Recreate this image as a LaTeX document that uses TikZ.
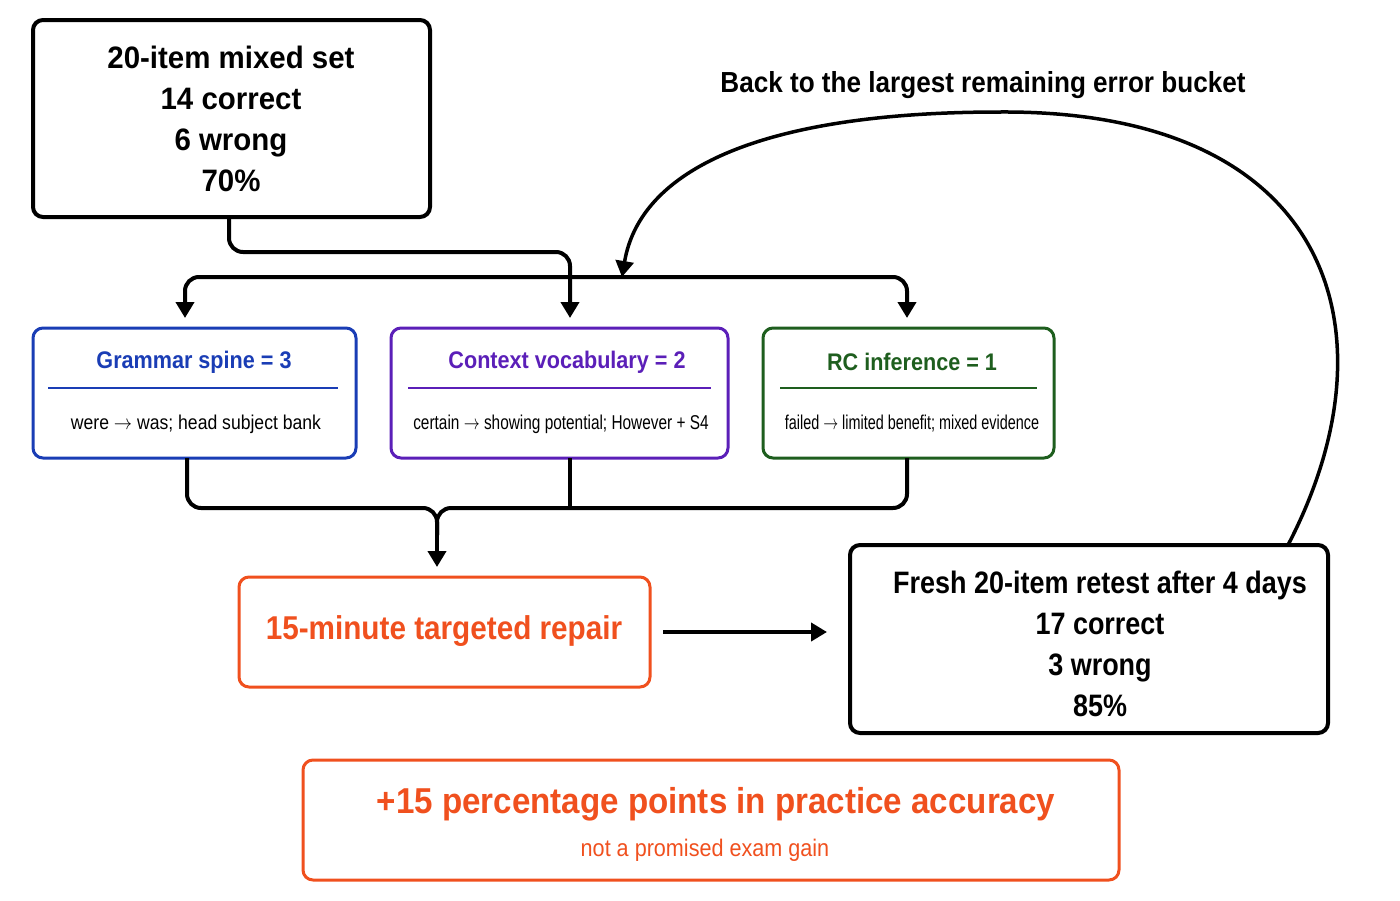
\documentclass[tikz,border=0pt]{standalone}
\usepackage{fontspec}
\setmainfont{Liberation Sans}
\usetikzlibrary{arrows.meta}
\definecolor{gblue}{HTML}{1A3DB5}
\definecolor{gpurp}{HTML}{5B1FB8}
\definecolor{ggreen}{HTML}{1E5E1E}
\definecolor{gorange}{HTML}{F0501E}
\begin{document}
\begin{tikzpicture}[x=1pt,y=-1pt,
 box/.style={draw,line width=4pt,rounded corners=10pt,inner sep=0pt},
 cbox/.style={draw,line width=3pt,rounded corners=10pt,inner sep=0pt},
 conn/.style={line width=4pt,rounded corners=14pt},
 arr/.style={conn,-{Triangle[length=16pt,width=18pt]}},
 big/.style={font=\fontsize{31}{41}\selectfont\bfseries,align=center},
 ttl/.style={font=\fontsize{24}{28}\selectfont\bfseries},
 sub/.style={font=\fontsize{20}{24}\selectfont}]
\useasboundingbox (0,0) rectangle (1400,900);
\draw[box] (33,20) rectangle (430,217);
\node[big,xscale=0.95] (top) at (231,119) {20-item mixed set\\14 correct\\6 wrong\\70\%};
\coordinate (topS) at (229,217);
\draw[cbox,gblue] (33,328) rectangle (356,458);
\draw[cbox,gpurp] (391,328) rectangle (728,458);
\draw[cbox,ggreen] (763,328) rectangle (1054,458);
\node[ttl,gblue,xscale=0.9] (g) at (194,362) {Grammar spine = 3};
\node[ttl,gpurp,xscale=0.9] (c) at (567,362) {Context vocabulary = 2};
\node[ttl,ggreen,xscale=0.9] (r) at (912,362) {RC inference = 1};
\draw[gblue,line width=2.5pt] (48,388)--(338,388);
\draw[gpurp,line width=2.5pt] (408,388)--(711,388);
\draw[ggreen,line width=2.5pt] (780,388)--(1037,388);
\node[sub,xscale=0.88] (gs) at (196,424) {were $\rightarrow$ was; head subject bank};
\node[sub,xscale=0.77] (cs) at (561,424) {certain $\rightarrow$ showing potential; However + S4};
\node[sub,xscale=0.72] (rs) at (912,424) {failed $\rightarrow$ limited benefit; mixed evidence};
\coordinate (gT) at (185,318); \coordinate (cT) at (570,318); \coordinate (rT) at (907,318);
\draw[arr] (topS) -- (229,252) -- (570,252) -- (cT);
\draw[arr] (570,277) -| (gT);
\draw[arr] (570,277) -| (rT);
\draw[cbox,gorange] (239,577) rectangle (650,687);
\node[big,gorange,xscale=0.9,font=\fontsize{33}{36}\selectfont\bfseries] (rep) at (444,631) {15-minute targeted repair};
\draw[box] (850,545) rectangle (1328,733);
\node[big,xscale=0.87] (ret) at (1100,644) {Fresh 20-item retest after 4 days\\17 correct\\3 wrong\\85\%};
\draw[conn] (187,458) |- (437,508) -- (437,535);
\draw[conn] (907,458) |- (437,508) -- (437,535);
\draw[conn] (570,458) -- (570,508);
\draw[arr] (437,525) -- (437,567);
\draw[arr] (663,632) -- (827,632);
\draw[line width=3.5pt,-{Triangle[length=16pt,width=18pt]}] (1288,545) .. controls (1400,330) and (1330,110) .. (1000,112) .. controls (760,112) and (640,170) .. (622,277);
\node[ttl,xscale=0.9,font=\fontsize{29}{30}\selectfont\bfseries] (lab) at (983,85) {Back to the largest remaining error bucket};
\draw[cbox,gorange] (303,760) rectangle (1119,880);
\node[gorange,xscale=0.92,font=\fontsize{36}{38}\selectfont\bfseries] (p) at (716,804) {+15 percentage points in practice accuracy};
\node[gorange,font=\fontsize{24}{26}\selectfont,xscale=0.9] (n) at (705,850) {not a promised exam gain};
\end{tikzpicture}
\end{document}
